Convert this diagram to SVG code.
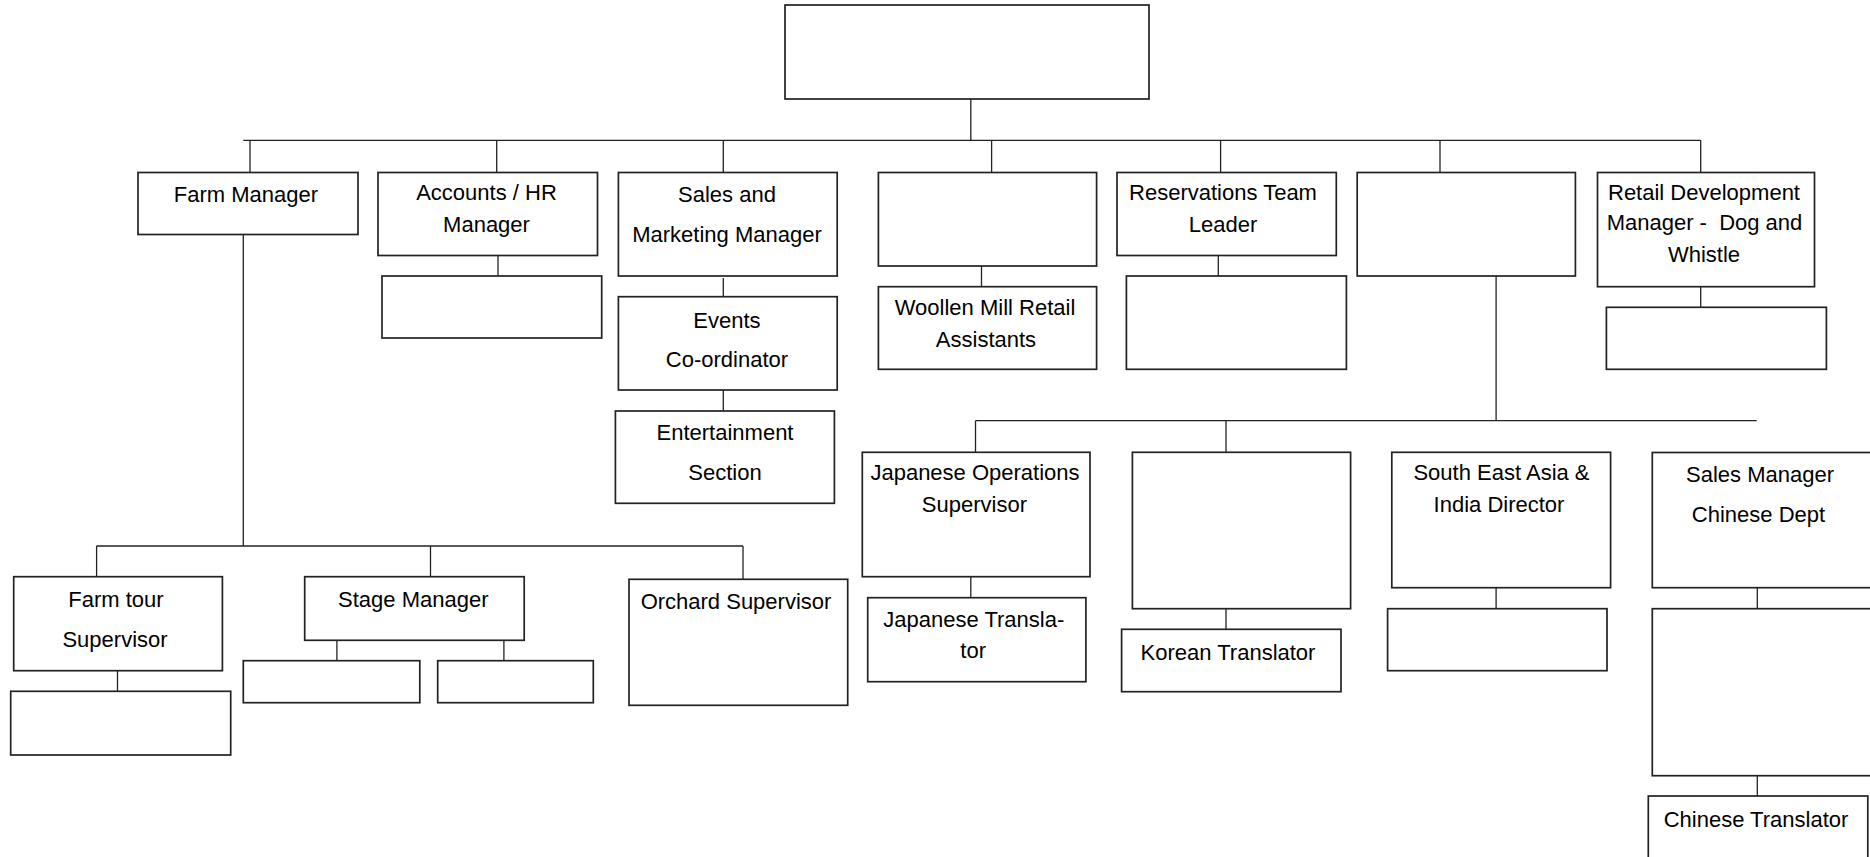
<svg xmlns="http://www.w3.org/2000/svg" width="1870" height="857" viewBox="0 0 1870 857">
<style>
.b{fill:#fff;stroke:#222;stroke-width:1.7}
.c line{stroke:#222;stroke-width:1.3}
text{font-family:"Liberation Sans",Arial,sans-serif;font-size:22px;fill:#000;text-anchor:middle}
.pre{white-space:pre}
</style>
<rect width="1870" height="857" fill="#fff"/>
<g class="c" id="connectors">
<line x1="970.8" y1="99" x2="970.8" y2="140.3"/>
<line x1="243.3" y1="140.3" x2="1700.7" y2="140.3"/>
<line x1="250" y1="140.3" x2="250" y2="172.5"/>
<line x1="496.7" y1="140.3" x2="496.7" y2="172.5"/>
<line x1="723.3" y1="140.3" x2="723.3" y2="172.5"/>
<line x1="991.6" y1="140.3" x2="991.6" y2="172.5"/>
<line x1="1220.6" y1="140.3" x2="1220.6" y2="172.5"/>
<line x1="1440" y1="140.3" x2="1440" y2="172.5"/>
<line x1="1700.7" y1="140.3" x2="1700.7" y2="172.5"/>
<line x1="498" y1="255.5" x2="498" y2="276"/>
<line x1="723.3" y1="278" x2="723.3" y2="296.7"/>
<line x1="723.3" y1="390" x2="723.3" y2="411"/>
<line x1="981.5" y1="266" x2="981.5" y2="286.7"/>
<line x1="1218.3" y1="255.5" x2="1218.3" y2="276"/>
<line x1="1700.7" y1="286.7" x2="1700.7" y2="307.3"/>
<line x1="1496.1" y1="276" x2="1496.1" y2="420.7"/>
<line x1="975.5" y1="420.7" x2="1756.7" y2="420.7"/>
<line x1="975.5" y1="420.7" x2="975.5" y2="452.3"/>
<line x1="1226" y1="420.7" x2="1226" y2="452.3"/>
<line x1="970.8" y1="576.7" x2="970.8" y2="597.7"/>
<line x1="1226" y1="608.7" x2="1226" y2="629.3"/>
<line x1="1496.1" y1="587.7" x2="1496.1" y2="608.7"/>
<line x1="1757.3" y1="587.7" x2="1757.3" y2="608.7"/>
<line x1="1757.3" y1="775.7" x2="1757.3" y2="796"/>
<line x1="243.3" y1="234.5" x2="243.3" y2="546"/>
<line x1="96.6" y1="546" x2="743" y2="546"/>
<line x1="96.6" y1="546" x2="96.6" y2="576.7"/>
<line x1="430.5" y1="546" x2="430.5" y2="576.7"/>
<line x1="743" y1="546" x2="743" y2="579.3"/>
<line x1="117.5" y1="670.7" x2="117.5" y2="691.3"/>
<line x1="336.9" y1="640.3" x2="336.9" y2="660.7"/>
<line x1="503.9" y1="640.3" x2="503.9" y2="660.7"/>
</g>
<g id="top"><rect class="b" x="785" y="5" width="364" height="94"/></g>
<g id="farm-manager"><rect class="b" x="138" y="172.5" width="220" height="62"/><text x="246" y="201.5">Farm Manager</text></g>
<g id="accounts"><rect class="b" x="378" y="172.5" width="219.5" height="83"/><text x="486.5" y="200">Accounts / HR</text><text x="486.5" y="231.7">Manager</text></g>
<g id="accounts-child"><rect class="b" x="382" y="276" width="219.7" height="62"/></g>
<g id="sales"><rect class="b" x="618.4" y="172.5" width="218.8" height="103.5"/><text x="727" y="201.7">Sales and</text><text x="727" y="241.7">Marketing Manager</text></g>
<g id="events"><rect class="b" x="618.4" y="296.7" width="218.8" height="93.3"/><text x="727" y="328.3">Events</text><text x="727" y="366.7">Co-ordinator</text></g>
<g id="entertainment"><rect class="b" x="615.4" y="411" width="219" height="92.3"/><text x="725" y="440">Entertainment</text><text x="725" y="480">Section</text></g>
<g id="blank-4"><rect class="b" x="878.4" y="172.5" width="218.2" height="93.5"/></g>
<g id="woollen"><rect class="b" x="878.4" y="286.7" width="218.2" height="82.6"/><text x="985" y="315">Woollen Mill Retail</text><text x="986" y="346.7">Assistants</text></g>
<g id="reservations"><rect class="b" x="1117" y="172.5" width="219.3" height="83"/><text x="1223" y="200">Reservations Team</text><text x="1223" y="231.7">Leader</text></g>
<g id="reservations-child"><rect class="b" x="1126.4" y="276" width="220" height="93.3"/></g>
<g id="blank-6"><rect class="b" x="1357.2" y="172.5" width="218.2" height="103.5"/></g>
<g id="retail"><rect class="b" x="1597.5" y="172.5" width="217" height="114.2"/><text x="1704" y="200">Retail Development</text><text class="pre" x="1704.5" y="230">Manager -  Dog and</text><text x="1704" y="261.7">Whistle</text></g>
<g id="retail-child"><rect class="b" x="1606.4" y="307.3" width="220" height="62"/></g>
<g id="farm-tour"><rect class="b" x="13.7" y="576.7" width="208.7" height="94"/><text x="116" y="606.7">Farm tour</text><text x="115" y="646.7">Supervisor</text></g>
<g id="farm-tour-child"><rect class="b" x="10.7" y="691.3" width="220" height="63.7"/></g>
<g id="stage"><rect class="b" x="304.7" y="576.7" width="219.5" height="63.6"/><text x="413.3" y="606.7">Stage Manager</text></g>
<g id="stage-child-1"><rect class="b" x="243.3" y="660.7" width="176.5" height="42"/></g>
<g id="stage-child-2"><rect class="b" x="437.7" y="660.7" width="155.6" height="42"/></g>
<g id="orchard"><rect class="b" x="629" y="579.3" width="218.7" height="126"/><text x="736" y="609.3">Orchard Supervisor</text></g>
<g id="japanese-ops"><rect class="b" x="862.3" y="452.3" width="227.7" height="124.4"/><text x="975" y="480">Japanese Operations</text><text x="974.4" y="511.7">Supervisor</text></g>
<g id="japanese-translator"><rect class="b" x="867.7" y="597.7" width="218.2" height="84"/><text x="973.8" y="626.7">Japanese Transla-</text><text x="973.2" y="658.3">tor</text></g>
<g id="korean-blank"><rect class="b" x="1132.4" y="452.3" width="218.2" height="156.4"/></g>
<g id="korean"><rect class="b" x="1121.6" y="629.3" width="219.4" height="62.4"/><text x="1228" y="660">Korean Translator</text></g>
<g id="sea"><rect class="b" x="1391.8" y="452.3" width="218.8" height="135.4"/><text x="1501.5" y="480">South East Asia &amp;</text><text x="1499" y="511.7">India Director</text></g>
<g id="sea-child"><rect class="b" x="1387.6" y="608.7" width="219.4" height="62"/></g>
<g id="sales-chinese"><rect class="b" x="1652.3" y="452.5" width="230" height="135.2"/><text x="1760" y="481.7">Sales Manager</text><text x="1758.5" y="521.7">Chinese Dept</text></g>
<g id="chinese-blank"><rect class="b" x="1652.3" y="608.7" width="230" height="167"/></g>
<g id="chinese-translator"><rect class="b" x="1648.3" y="796" width="219.5" height="75"/><text x="1756" y="826.7">Chinese Translator</text></g>
</svg>
